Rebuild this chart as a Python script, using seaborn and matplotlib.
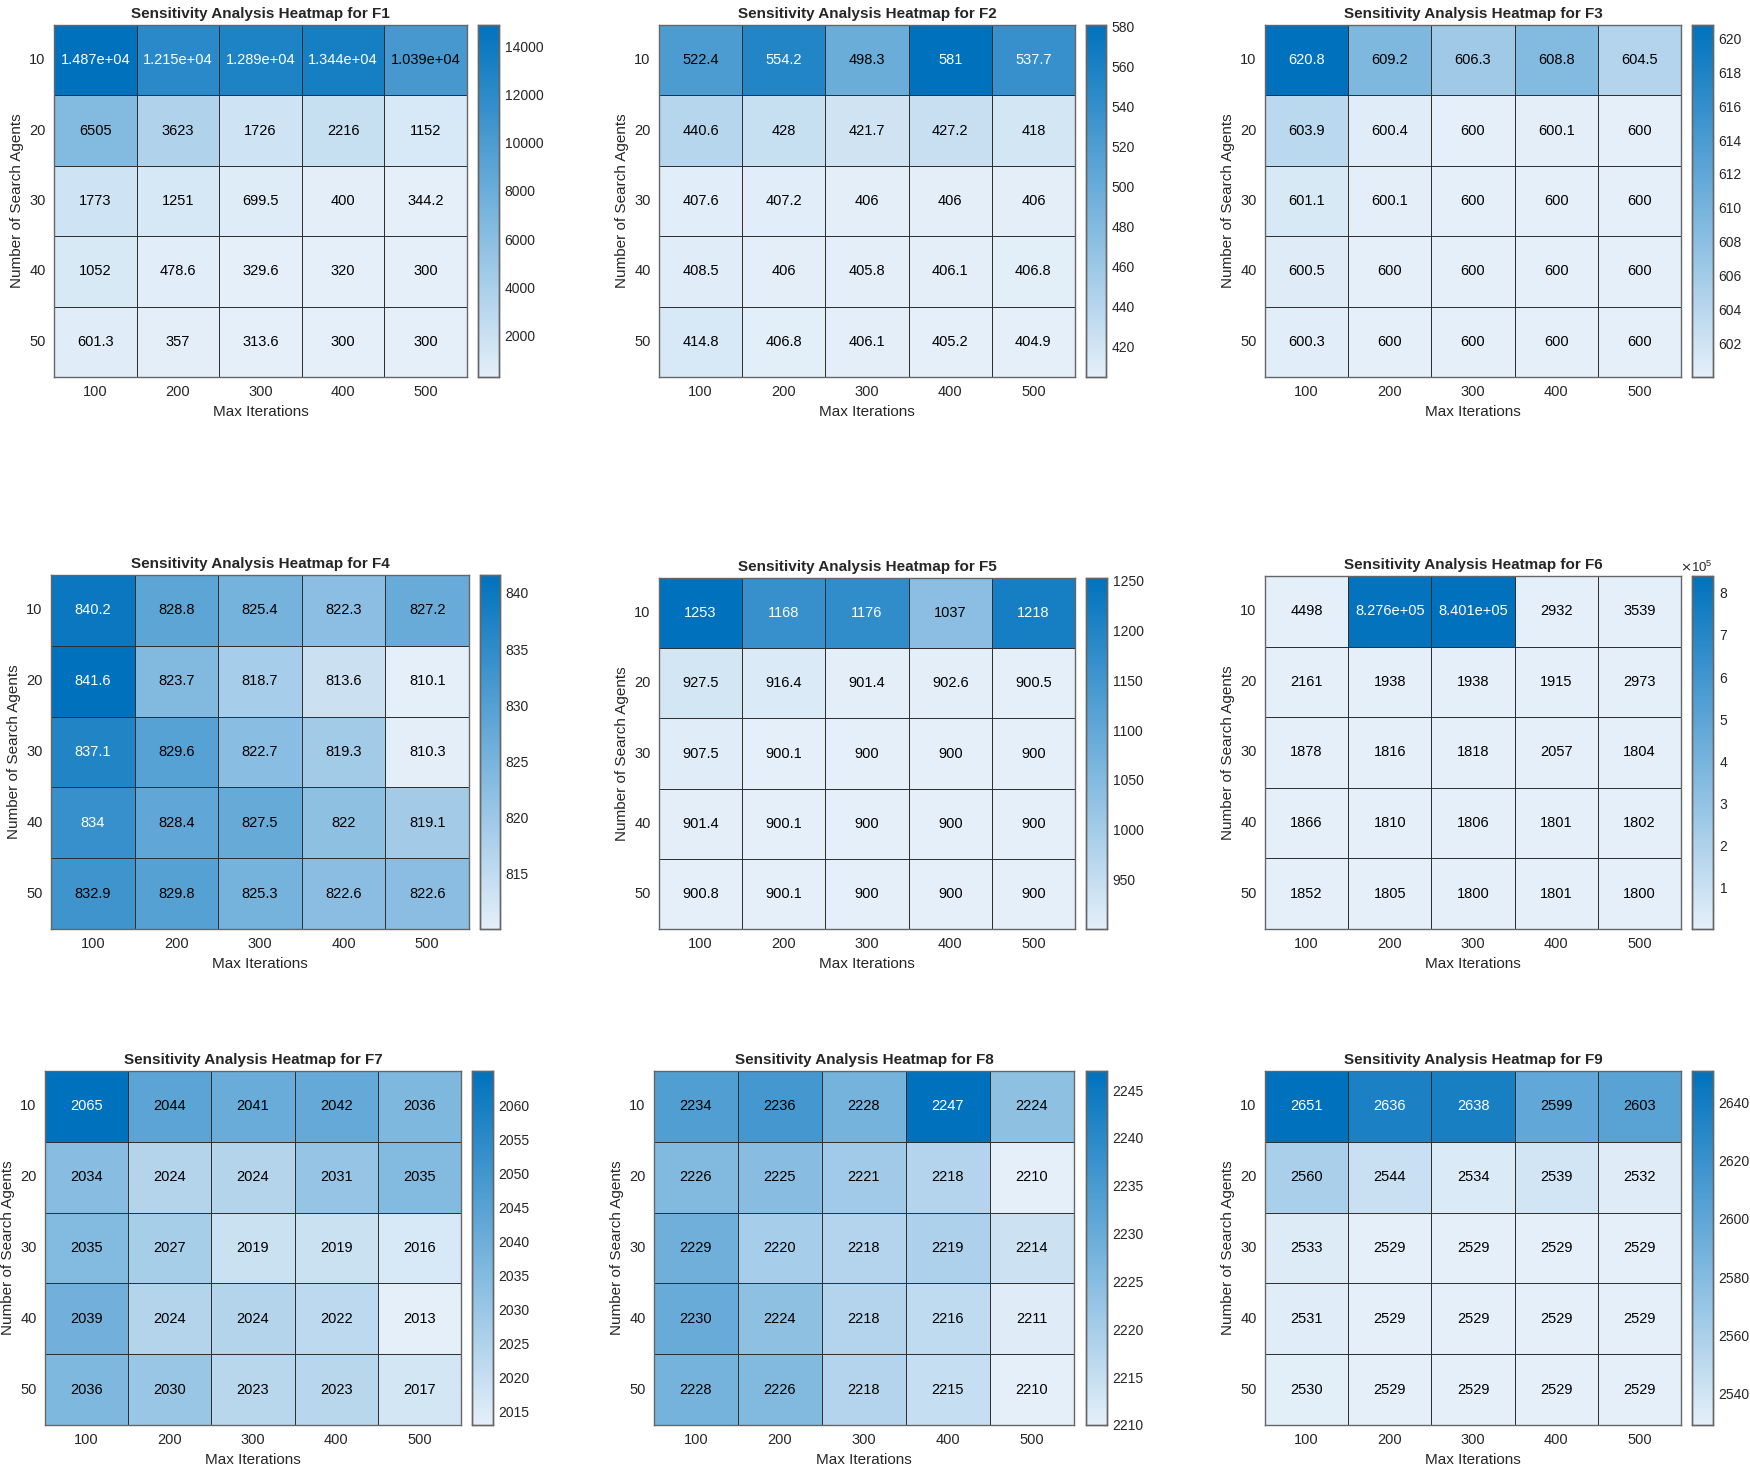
import numpy as np
import pandas as pd
import matplotlib
matplotlib.use('Agg')
import matplotlib.pyplot as plt
import seaborn as sns
from matplotlib.colors import LinearSegmentedColormap, Normalize
from matplotlib.ticker import ScalarFormatter

sns.set_style('white')
plt.rcParams['font.family'] = ['Liberation Sans', 'DejaVu Sans']

# rows = number of search agents, columns = max iterations
agents = [10, 20, 30, 40, 50]
iterations = [100, 200, 300, 400, 500]

F1 = [[14870, 12150, 12890, 13440, 10390],
      [6505, 3623, 1726, 2216, 1152],
      [1773, 1251, 699.5, 400, 344.2],
      [1052, 478.6, 329.6, 320, 300],
      [601.3, 357, 313.6, 300, 300]]
F2 = [[522.4, 554.2, 498.3, 581, 537.7],
      [440.6, 428, 421.7, 427.2, 418],
      [407.6, 407.2, 406, 406, 406],
      [408.5, 406, 405.8, 406.1, 406.8],
      [414.8, 406.8, 406.1, 405.2, 404.9]]
F3 = [[620.8, 609.2, 606.3, 608.8, 604.5],
      [603.9, 600.4, 600, 600.1, 600],
      [601.1, 600.1, 600, 600, 600],
      [600.5, 600, 600, 600, 600],
      [600.3, 600, 600, 600, 600]]
F4 = [[840.2, 828.8, 825.4, 822.3, 827.2],
      [841.6, 823.7, 818.7, 813.6, 810.1],
      [837.1, 829.6, 822.7, 819.3, 810.3],
      [834, 828.4, 827.5, 822, 819.1],
      [832.9, 829.8, 825.3, 822.6, 822.6]]
F5 = [[1253, 1168, 1176, 1037, 1218],
      [927.5, 916.4, 901.4, 902.6, 900.5],
      [907.5, 900.1, 900, 900, 900],
      [901.4, 900.1, 900, 900, 900],
      [900.8, 900.1, 900, 900, 900]]
F6 = [[4498, 827600, 840100, 2932, 3539],
      [2161, 1938, 1938, 1915, 2973],
      [1878, 1816, 1818, 2057, 1804],
      [1866, 1810, 1806, 1801, 1802],
      [1852, 1805, 1800, 1801, 1800]]
F7 = [[2065, 2044, 2041, 2042, 2036],
      [2034, 2024, 2024, 2031, 2035],
      [2035, 2027, 2019, 2019, 2016],
      [2039, 2024, 2024, 2022, 2013],
      [2036, 2030, 2023, 2023, 2017]]
F8 = [[2234, 2236, 2228, 2247, 2224],
      [2226, 2225, 2221, 2218, 2210],
      [2229, 2220, 2218, 2219, 2214],
      [2230, 2224, 2218, 2216, 2211],
      [2228, 2226, 2218, 2215, 2210]]
F9 = [[2651, 2636, 2638, 2599, 2603],
      [2560, 2544, 2534, 2539, 2532],
      [2533, 2529, 2529, 2529, 2529],
      [2531, 2529, 2529, 2529, 2529],
      [2530, 2529, 2529, 2529, 2529]]

functions = ['F1', 'F2', 'F3', 'F4', 'F5', 'F6', 'F7', 'F8', 'F9']
tables = [F1, F2, F3, F4, F5, F6, F7, F8, F9]

# colorbar tick labels (first, last, step) as shown on each colorbar
cbar_ticks = [(2000, 14000, 2000), (420, 580, 20), (602, 620, 2),
              (815, 840, 5), (950, 1250, 50), (100000, 800000, 100000),
              (2015, 2060, 5), (2210, 2245, 5), (2540, 2640, 20)]

# panel boxes in pixels: heatmap x0, x1, y0, y1, colorbar x0, x1
W, H = 1750, 1472
boxes = [
    (54, 467, 25, 377, 478, 499),
    (659, 1075, 25, 377, 1086, 1106),
    (1265, 1681, 25, 377, 1692, 1713),
    (51, 469, 575, 929, 480, 500),
    (659, 1075, 578, 929, 1086, 1107),
    (1265, 1681, 576, 929, 1692, 1713),
    (45, 461, 1071, 1425, 472, 493),
    (654, 1074, 1071, 1425, 1086, 1107),
    (1265, 1681, 1071, 1425, 1692, 1713),
]

cmap = LinearSegmentedColormap.from_list('matlab_blue', [(0.894, 0.937, 0.976), (0.0, 0.447, 0.741)])

fig = plt.figure(figsize=(W / 100, H / 100), dpi=100)

for name, table, ticks, box in zip(functions, tables, cbar_ticks, boxes):
    hx0, hx1, hy0, hy1, cx0, cx1 = box
    ax = fig.add_axes([hx0 / W, 1 - hy1 / H, (hx1 - hx0) / W, (hy1 - hy0) / H])
    cax = fig.add_axes([cx0 / W, 1 - hy1 / H, (cx1 - cx0) / W, (hy1 - hy0) / H])

    df = pd.DataFrame(table, index=agents, columns=iterations)
    vals = df.values.astype(float)
    norm = Normalize(vals.min(), vals.max())

    sns.heatmap(df, ax=ax, cbar_ax=cax, cmap=cmap, annot=True, fmt='.4g',
                annot_kws={'fontsize': 10.5}, linewidths=0.6, linecolor='#303030',
                vmin=vals.min(), vmax=vals.max())

    # white text on dark cells, black elsewhere
    for txt, v in zip(ax.texts, vals.flatten()):
        txt.set_color('white' if norm(v) > 0.74 else 'black')

    for spine in ax.spines.values():
        spine.set_visible(True)
        spine.set_color('#666666')
        spine.set_linewidth(1.0)

    ax.tick_params(length=0, labelsize=10.5, colors='#262626', pad=6)
    ax.set_yticklabels(agents, rotation=0)
    ax.set_xticklabels(iterations, rotation=0)
    ax.set_xlabel('Max Iterations', fontsize=11, color='#262626')
    ax.set_ylabel('Number of Search Agents', fontsize=11, color='#262626')
    ax.set_title(f'Sensitivity Analysis Heatmap for {name}', fontsize=11,
                 fontweight='bold', pad=5)

    t0, t1, st = ticks
    cax.set_yticks(np.arange(t0, t1 + st / 2, st))
    if name == 'F6':
        fmt = ScalarFormatter(useMathText=True)
        fmt.set_powerlimits((0, 0))
        cax.yaxis.set_major_formatter(fmt)
        cax.yaxis.get_offset_text().set_fontsize(9.5)
        cax.yaxis.get_offset_text().set_color('#262626')
    cax.tick_params(direction='in', length=3, width=0.8, labelsize=10,
                    colors='#262626', pad=4)
    for spine in cax.spines.values():
        spine.set_visible(True)
        spine.set_color('#666666')
        spine.set_linewidth(1.0)

fig.savefig('out.png', dpi=100, facecolor='white')
